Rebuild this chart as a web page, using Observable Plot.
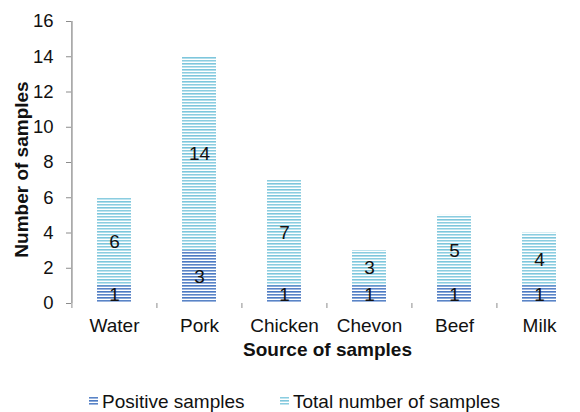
<!DOCTYPE html>
<html>
<head>
<meta charset="utf-8">
<script src="https://cdn.jsdelivr.net/npm/d3@7"></script>
<script src="https://cdn.jsdelivr.net/npm/@observablehq/plot@0.6"></script>
<style>
  body { margin: 0; background: #fff; font-family: "Liberation Sans", Arial, sans-serif; }
  #chart { width: 580px; overflow: hidden; }
  .legend { position: relative; height: 42px; padding-top: 22px; box-sizing: border-box; font-size: 19px; line-height: 19px; color: #111; }
  .legend .item { position: absolute; top: 22px; display: flex; align-items: center; height: 19px; }
  .legend svg { margin-right: 4px; display: block; }
</style>
</head>
<body>
<div id="chart"></div>
<script>
// Samples by source
const categories = ["Water", "Pork", "Chicken", "Chevon", "Beef", "Milk"];
const positive = [1, 3, 1, 1, 1, 1];
const total = [6, 14, 7, 3, 5, 4];
const yTicks = [0, 2, 4, 6, 8, 10, 12, 14, 16];

const rows = categories.map((c, i) => ({source: c, positive: positive[i], total: total[i]}));

const W = 580, H = 370, ML = 71, MR = 0, MT = 21, MB = 67;
// the category axis runs a little past the right edge
const xRange = [ML, 582];
const step = (xRange[1] - xRange[0]) / categories.length;
const axisColor = "#8c8c8c";

const plot = Plot.plot({
  width: W,
  height: H,
  marginLeft: ML,
  marginRight: MR,
  marginTop: MT,
  marginBottom: MB,
  style: {fontFamily: "Liberation Sans, Arial, sans-serif", fontSize: "19px", color: "#111", background: "#fff"},
  x: {domain: categories, range: xRange, paddingInner: 0.6, paddingOuter: 0.3, axis: null},
  y: {domain: [0, 16], axis: null},
  marks: [
    // total bars, then positive bars overlaid from zero
    Plot.barY(rows, {x: "source", y: "total", fill: "url(#patTotal)"}),
    Plot.barY(rows, {x: "source", y: "positive", fill: "url(#patPos)"}),
    // value labels, centred in their visible segment
    Plot.text(rows, {x: "source", y: d => (d.positive + d.total) / 2, text: d => String(d.total), fontSize: 19, fill: "#111"}),
    Plot.text(rows, {x: "source", y: d => d.positive / 2, text: d => String(d.positive), fontSize: 19, fill: "#111"}),
    // axis lines
    Plot.ruleY([0], {x1: categories[0], x2: categories[categories.length - 1], dx: 0, stroke: axisColor, strokeWidth: 1.3, insetLeft: -step / 2, insetRight: -step / 2}),
    Plot.ruleX([categories[0]], {x: d => d, dx: -step / 2, y1: 0, y2: 16, stroke: axisColor, strokeWidth: 1.3}),
    // y axis ticks and labels
    Plot.axisY({ticks: yTicks, tickSize: 5, tickPadding: 13, stroke: axisColor, fill: "#111", fontSize: 18.5, label: null}),
    // x axis: ticks at category boundaries, labels at centres
    Plot.axisX({ticks: categories, tickSize: 5, tickFormat: () => "", dx: -step / 2, stroke: axisColor, label: null}),
    Plot.axisX({ticks: categories, tickSize: 0, tickPadding: 15, fill: "#111", fontSize: 19, label: null}),
    // axis titles
    Plot.text(["Number of samples"], {frameAnchor: "left", textAnchor: "middle", lineAnchor: "middle", text: d => d, rotate: -90, dx: -50, dy: 7, fontWeight: "bold", fontSize: 19, fill: "#111"}),
    Plot.text(["Source of samples"], {frameAnchor: "bottom", textAnchor: "middle", lineAnchor: "middle", text: d => d, dx: 1.5, dy: 46.5, fontWeight: "bold", fontSize: 19, fill: "#111"})
  ]
});

// horizontal line fills
const defs = `
<defs>
  <pattern id="patTotal" patternUnits="userSpaceOnUse" width="8" height="6">
    <rect width="8" height="6" fill="#ffffff"/>
    <rect y="0" width="8" height="1" fill="#8bcde0"/>
    <rect y="1" width="8" height="1" fill="#bfe4ef"/>
    <rect y="3" width="8" height="1" fill="#7ec6dc"/>
    <rect y="4" width="8" height="1" fill="#b0ddea"/>
  </pattern>
  <pattern id="patPos" patternUnits="userSpaceOnUse" width="8" height="6">
    <rect width="8" height="6" fill="#ffffff"/>
    <rect y="0" width="8" height="1" fill="#5a84c6"/>
    <rect y="1" width="8" height="1" fill="#9bb5df"/>
    <rect y="3" width="8" height="1" fill="#4c7ac2"/>
    <rect y="4" width="8" height="1" fill="#8aa9d9"/>
  </pattern>
</defs>`;
plot.insertAdjacentHTML("afterbegin", defs);

const chart = document.getElementById("chart");
chart.appendChild(plot);

// legend below the chart
const legend = document.createElement("div");
legend.className = "legend";
const items = [
  {label: "Positive samples", pattern: "patPos", left: 89},
  {label: "Total number of samples", pattern: "patTotal", left: 280}
];
for (const it of items) {
  const el = document.createElement("div");
  el.className = "item";
  el.style.left = it.left + "px";
  el.innerHTML = `<svg width="9" height="9"><rect width="9" height="9" fill="url(#${it.pattern})"/></svg><span>${it.label}</span>`;
  legend.appendChild(el);
}
chart.appendChild(legend);
</script>
</body>
</html>
